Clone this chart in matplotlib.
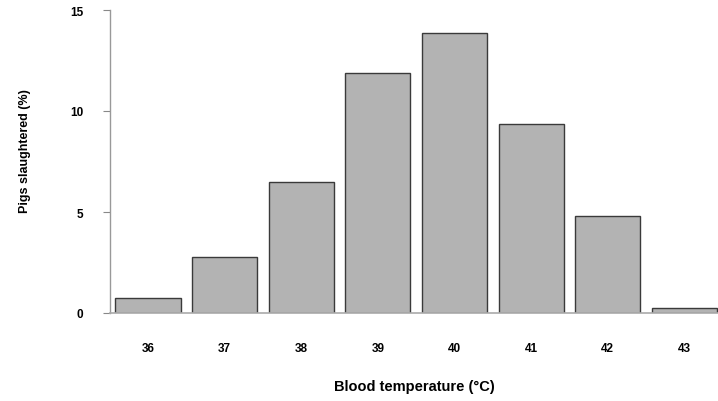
import numpy as np
import matplotlib.pyplot as plt

plt.rcParams['font.family'] = ['Liberation Sans', 'DejaVu Sans']
plt.rcParams['font.weight'] = 'bold'

# Temperatura do sangue (°C) e porcentagem de suínos abatidos
temperaturas = [36, 37, 38, 39, 40, 41, 42, 43]
porcentagem = [0.75, 2.75, 6.5, 11.9, 13.85, 9.37, 4.82, 0.25]
yticks = [0, 5, 10, 15]

fig = plt.figure(figsize=(7.18, 4.02), dpi=100)
ax = fig.add_axes([110/718, 88/402, 608/718, 303/402])

ax.bar(temperaturas, porcentagem, width=0.85, color='#b3b3b3',
       edgecolor='#3a3a3a', linewidth=1.0)

ax.set_xlim(35.504, 43.44)
ax.set_ylim(0, 15)
ax.set_xticks(temperaturas)
ax.set_yticks(yticks)
ax.tick_params(axis='x', length=0, pad=21, labelsize=8.5)
ax.tick_params(axis='y', length=5, color='#888888', pad=14, labelsize=8.5)

for s in ['top', 'right']:
    ax.spines[s].set_visible(False)
ax.spines['left'].set_color('#999999')
ax.spines['bottom'].set_color('#aaaaaa')
ax.spines['left'].set_linewidth(1.0)
ax.spines['bottom'].set_linewidth(1.2)

ax.set_xlabel('Blood temperature (°C)', fontsize=10.5, fontweight='bold', labelpad=18)
ax.set_ylabel('Pigs slaughtered (%)', fontsize=9, fontweight='bold')
ax.yaxis.set_label_coords(-0.13, 0.538)

fig.savefig('out.png', dpi=100)
